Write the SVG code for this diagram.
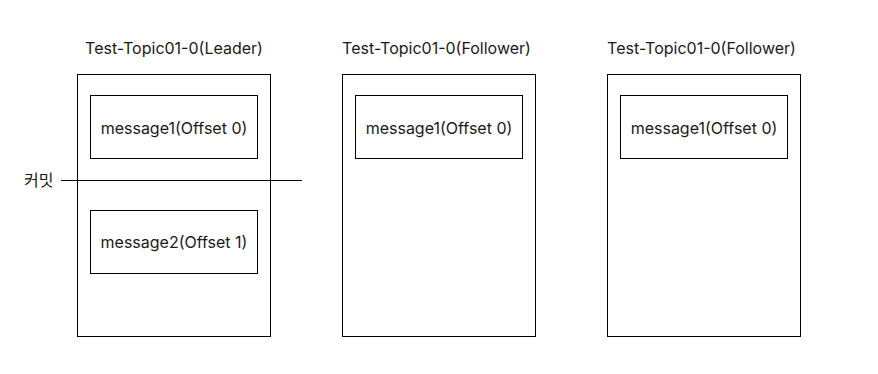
<svg xmlns="http://www.w3.org/2000/svg" width="878" height="374" viewBox="0 0 878 374">
<style>
.box{fill:#fff;stroke:#000;stroke-width:1}
.t{font-family:Inter,"Noto Sans CJK KR",sans-serif;font-size:16px;fill:#1a1a1a;text-anchor:middle}
.k{font-family:Inter,"Noto Sans CJK KR",sans-serif;font-size:16px;fill:#1a1a1a}
</style>
<rect width="878" height="374" fill="#fff"/>
<g id="leader">
<text class="t" x="174" y="53.5">Test-Topic01-0(Leader)</text>
<rect class="box" x="77.5" y="74.5" width="193" height="262"/>
</g>
<g id="leader-msg1">
<rect class="box" x="90.5" y="95.5" width="167" height="63"/>
<text class="t" x="174" y="133.5">message1(Offset 0)</text>
</g>
<g id="leader-msg2">
<rect class="box" x="90.5" y="210.5" width="167" height="63"/>
<text class="t" x="174" y="248">message2(Offset 1)</text>
</g>
<g id="follower1">
<text class="t" x="436.5" y="53.5">Test-Topic01-0(Follower)</text>
<rect class="box" x="342.5" y="74.5" width="193" height="262"/>
</g>
<g id="follower1-msg1">
<rect class="box" x="355.5" y="95.5" width="167" height="63"/>
<text class="t" x="439" y="133.5">message1(Offset 0)</text>
</g>
<g id="follower2">
<text class="t" x="701.5" y="53.5">Test-Topic01-0(Follower)</text>
<rect class="box" x="607.5" y="74.5" width="193" height="262"/>
</g>
<g id="follower2-msg1">
<rect class="box" x="620.5" y="95.5" width="167" height="63"/>
<text class="t" x="704" y="133.5">message1(Offset 0)</text>
</g>
<g id="connectors">
<line x1="61" y1="180.5" x2="302" y2="180.5" stroke="#000" stroke-width="1"/>
<text class="k" x="24" y="186">커밋</text>
</g>
</svg>
